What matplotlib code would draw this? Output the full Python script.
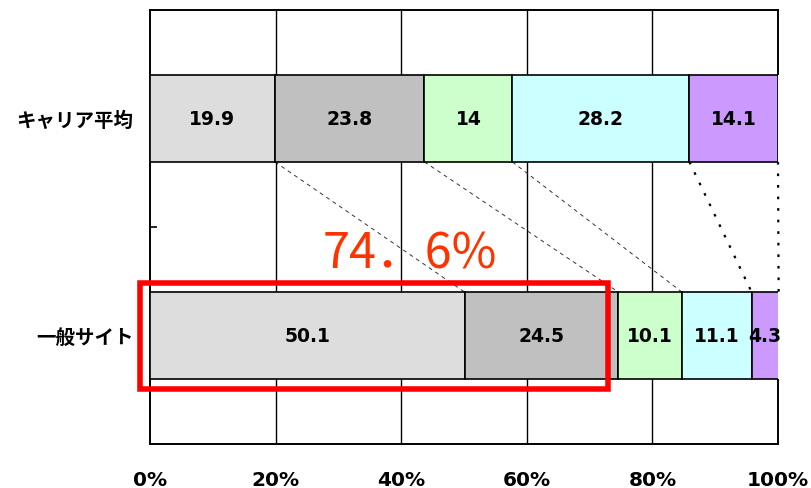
import matplotlib
matplotlib.use("Agg")
import matplotlib.pyplot as plt
from matplotlib.patches import Rectangle
import numpy as np

plt.rcParams['font.family'] = ['Noto Sans CJK JP', 'DejaVu Sans']

categories = ["一般サイト", "キャリア平均"]
series_colors = ["#DDDDDD", "#C0C0C0", "#CCFFCC", "#CCFFFF", "#CC99FF"]
general_site = [50.1, 24.5, 10.1, 11.1, 4.3]
carrier_avg = [19.9, 23.8, 14.0, 28.2, 14.1]
xtick_values = [0, 20, 40, 60, 80, 100]
xtick_labels = ["0%", "20%", "40%", "60%", "80%", "100%"]

data = np.array([general_site, carrier_avg])  # rows = categories

fig = plt.figure(figsize=(8.11, 4.89), dpi=100)
ax = fig.add_axes([150/811, 44/489, 628/811, 434/489])

num_font = dict(family="DejaVu Sans", fontweight="bold")

ypos = np.arange(len(categories))
bar_h = 0.4
left = np.zeros(len(categories))
for j in range(data.shape[1]):
    vals = data[:, j]
    ax.barh(ypos, vals, left=left, height=bar_h, color=series_colors[j],
            edgecolor="black", linewidth=1.2, zorder=3)
    for i, v in enumerate(vals):
        ax.text(left[i] + v / 2, ypos[i], f"{v:g}", ha="center", va="center",
                fontsize=13.5, color="black", zorder=5, **num_font)
    left = left + vals

# series lines between the two bars
cum_top = np.cumsum(carrier_avg)
cum_bot = np.cumsum(general_site)
y_from = ypos[1] - bar_h / 2
y_to = ypos[0] + bar_h / 2
for k, (xt, xb) in enumerate(zip(cum_top, cum_bot)):
    if k < 3:
        ax.plot([xt, xb], [y_from, y_to], color="#333333", linewidth=0.7,
                dashes=(4, 4), zorder=2)
    else:
        ax.plot([xt, xb], [y_from, y_to], color="black", linewidth=1.6,
                dashes=(1.2, 4), zorder=2, clip_on=False)

ax.set_xlim(0, 100)
ax.set_ylim(-0.5, 1.5)

# vertical gridlines
for xv in xtick_values[1:-1]:
    ax.axvline(xv, color="black", linewidth=1.0, zorder=1)
ax.vlines(100, ypos[1] + bar_h / 2, 1.5, color="black", linewidth=1.4, zorder=1,
          clip_on=False)
ax.vlines(100, -0.5, ypos[0] - bar_h / 2, color="black", linewidth=1.4, zorder=1,
          clip_on=False)

for side in ["left", "bottom", "top"]:
    ax.spines[side].set_linewidth(1.4)
    ax.spines[side].set_color("black")
ax.spines["right"].set_visible(False)

ax.set_xticks(xtick_values)
ax.set_xticklabels(xtick_labels, fontsize=14.5, **num_font)
ax.tick_params(axis="x", length=0, pad=19)

ax.set_yticks(ypos)
ax.set_yticklabels(categories, fontsize=14, fontweight="bold")
ax.tick_params(axis="y", which="major", length=0, pad=12)
ax.set_yticks([0.5], minor=True)
ax.tick_params(axis="y", which="minor", direction="in", length=5, width=1.2)

# highlight box and annotation
highlight = sum(general_site[:2])
ax.add_patch(Rectangle((-1.6, -0.247), 74.5, 0.487, fill=False,
                       edgecolor="#FF0000", linewidth=4, zorder=6, clip_on=False))
ax.text(27.5, 0.375, f"{highlight:.1f}%".replace(".", "．"), ha="left", va="center",
        fontsize=35, color="#FF3300", zorder=6)

fig.savefig("out.png", dpi=100)
